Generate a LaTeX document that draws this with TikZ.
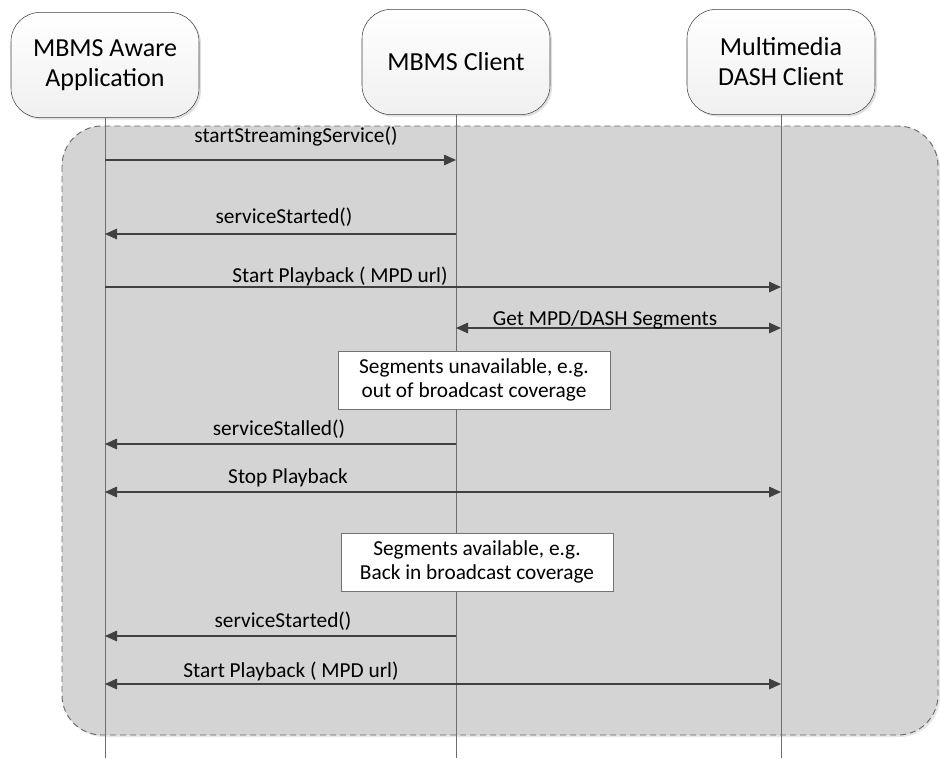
\documentclass[tikz,border=0pt]{standalone}
\usepackage{fontspec}
\setmainfont{Carlito}
\usetikzlibrary{arrows.meta,shadows}
\definecolor{pilgraa}{RGB}{64,64,64}
\definecolor{liniegraa}{RGB}{110,110,110}
\definecolor{rammegraa}{RGB}{105,105,105}
\definecolor{flategraa}{RGB}{212,212,212}
\tikzset{
    >={Triangle[length=9pt,width=8pt]},
    actor/.style={
           rectangle, rounded corners=22pt,
           draw=pilgraa, thin,
           top color=white, bottom color=black!6,
           minimum width=141pt, minimum height=79pt,
           inner sep=0pt, align=center,
           drop shadow={opacity=0.25, shadow xshift=1.5pt, shadow yshift=-1.5pt},
           font=\fontsize{19.5}{22.5}\selectfont},
    notebox/.style={
           rectangle,
           draw=black!55, thin, fill=white,
           minimum width=204pt, minimum height=43.5pt,
           inner sep=0pt, align=center,
           drop shadow={opacity=0.2, shadow xshift=1pt, shadow yshift=-1pt},
           font=\fontsize{16}{18}\selectfont},
    msg/.style={
           ->, draw=pilgraa, line width=0.8pt},
    dblmsg/.style={
           <->, draw=pilgraa, line width=0.8pt},
    lbl/.style={
           anchor=base, inner sep=0pt,
           font=\fontsize{16}{18}\selectfont},
    lifeline/.style={
           draw=liniegraa, line width=0.7pt}
}
\begin{document}
\begin{tikzpicture}[x=0.75pt,y=-0.75pt]
          \useasboundingbox (0,0) rectangle (940,758);
          % gray frame
          \filldraw[fill=flategraa, draw=rammegraa, dash pattern=on 4.5pt off 3pt, line width=0.7pt,
                    rounded corners=30pt, drop shadow={opacity=0.2, shadow xshift=1.5pt, shadow yshift=-1.5pt}]
                    (62,126) rectangle (938,735);
          % lifeline ends
          \coordinate (appbund) at (105,758);
          \coordinate (mbmsbund) at (456,758);
          \coordinate (dashbund) at (781,758);
          \foreach \nr/\y in {1/160,2/234,3/287,4/328,5/444,6/492,7/636,8/684} {
              \coordinate (app\nr) at (105,\y);
              \coordinate (mbms\nr) at (456,\y);
              \coordinate (dash\nr) at (781,\y);
          }
          \node[actor] (app) at (105,65) {MBMS Aware\\Application};
          \node[actor] (mbms) at (456,62) {MBMS Client};
          \node[actor] (dash) at (781,62) {Multimedia\\DASH Client};
          \draw[lifeline] (app.south) -- (appbund);
          \draw[lifeline] (mbms.south) -- (mbmsbund);
          \draw[lifeline] (dash.south) -- (dashbund);
          \node[notebox] (ute) at (474,380) {Segments unavailable, e.g.\\out of broadcast coverage};
          \node[notebox] (tilbake) at (477,562) {Segments available, e.g.\\Back in broadcast coverage};
          \draw[msg] (app1) -- (mbms1);
          \draw[msg] (mbms2) -- (app2);
          \draw[msg] (app3) -- (dash3);
          \draw[dblmsg] (mbms4) -- (dash4);
          \draw[msg] (mbms5) -- (app5);
          \draw[dblmsg] (app6) -- (dash6);
          \draw[msg] (mbms7) -- (app7);
          \draw[dblmsg] (app8) -- (dash8);
          \node[lbl] (l1) at (296,142) {startStreamingService()};
          \node[lbl] (l2) at (284,223) {serviceStarted()};
          \node[lbl] (l3) at (340,282) {Start Playback ( MPD url)};
          \node[lbl] (l4) at (605,325) {Get MPD/DASH Segments};
          \node[lbl] (l5) at (279,435) {serviceStalled()};
          \node[lbl] (l6) at (288,483) {Stop Playback};
          \node[lbl] (l7) at (283,627) {serviceStarted()};
          \node[lbl] (l8) at (291,677) {Start Playback ( MPD url)};
\end{tikzpicture}
\end{document}
